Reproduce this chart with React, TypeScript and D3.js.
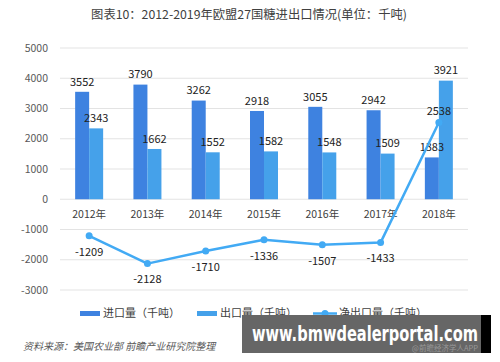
import React from "react";
import * as d3 from "d3";

const years = ["2012年", "2013年", "2014年", "2015年", "2016年", "2017年", "2018年"];
const imports = [3552, 3790, 3262, 2918, 3055, 2942, 1383];
const exportsVol = [2343, 1662, 1552, 1582, 1548, 1509, 3921];
const netExports = [-1209, -2128, -1710, -1336, -1507, -1433, 2538];
const yTicks = [5000, 4000, 3000, 2000, 1000, 0, -1000, -2000, -3000];

const W = 500;
const H = 362;
const FONT = "'Noto Sans CJK SC', 'Noto Sans', sans-serif";
const IMPORT_COLOR = "#3E82E0";
const EXPORT_COLOR = "#45A1EA";
const LINE_COLOR = "#42AAF4";

export default function App() {
  const x = d3.scaleBand<string>().domain(years).range([60, 468]).paddingInner(0).paddingOuter(0);
  const y = d3.scaleLinear().domain([-3000, 5000]).range([290, 48]);
  const barW = 14;

  const line = d3
    .line<number>()
    .x((_, i) => (x(years[i]) as number) + x.bandwidth() / 2)
    .y((d) => y(d));

  return (
    <svg width={W} height={H} style={{ position: "absolute", left: 0, top: 0, background: "#fff" }} fontFamily={FONT}>
      <rect width={W} height={H} fill="#fff" />
      <text x={249} y={19} textAnchor="middle" fontSize={12.3} fill="#404040">
        图表10：2012-2019年欧盟27国糖进出口情况(单位：千吨)
      </text>

      {/* grid */}
      {yTicks.map((t) => (
        <g key={t}>
          <line x1={60} x2={468} y1={y(t)} y2={y(t)} stroke="#e3e3e3" strokeWidth={1} />
          <text x={48} y={y(t)} dy="0.35em" textAnchor="end" fontSize={10.5} fill="#595959">
            {t}
          </text>
        </g>
      ))}

      {/* category labels */}
      {years.map((yr) => (
        <text key={yr} x={(x(yr) as number) + x.bandwidth() / 2} y={y(0) + 15} dy="0.35em" textAnchor="middle" fontSize={10.5} fill="#404040">
          {yr}
        </text>
      ))}

      {/* bars */}
      {years.map((yr, i) => {
        const cx = (x(yr) as number) + x.bandwidth() / 2;
        return (
          <g key={yr}>
            <rect x={cx - barW} y={y(imports[i])} width={barW} height={y(0) - y(imports[i])} fill={IMPORT_COLOR} />
            <rect x={cx} y={y(exportsVol[i])} width={barW} height={y(0) - y(exportsVol[i])} fill={EXPORT_COLOR} />
            <text x={cx - barW / 2} y={y(imports[i]) - 10} dy="0.35em" textAnchor="middle" fontSize={11} fill="#222">
              {imports[i]}
            </text>
            <text x={cx + barW / 2} y={y(exportsVol[i]) - 10} dy="0.35em" textAnchor="middle" fontSize={11} fill="#222">
              {exportsVol[i]}
            </text>
          </g>
        );
      })}

      {/* net export line */}
      <path d={line(netExports) as string} fill="none" stroke={LINE_COLOR} strokeWidth={2.5} strokeLinejoin="round" />
      {netExports.map((v, i) => {
        const cx = (x(years[i]) as number) + x.bandwidth() / 2;
        return (
          <g key={i}>
            <circle cx={cx} cy={y(v)} r={3.5} fill={LINE_COLOR} />
            <text x={cx} y={v < 0 ? y(v) + 16 : y(v) - 11} dy="0.35em" textAnchor="middle" fontSize={11} fill="#222">
              {v}
            </text>
          </g>
        );
      })}

      {/* legend */}
      <rect x={80} y={311} width={20} height={5} fill={IMPORT_COLOR} />
      <text x={103} y={313.5} dy="0.35em" fontSize={11} fill="#404040">进口量（千吨）</text>
      <rect x={197} y={311} width={20} height={5} fill={EXPORT_COLOR} />
      <text x={220} y={313.5} dy="0.35em" fontSize={11} fill="#404040">出口量（千吨）</text>
      <line x1={313} x2={337} y1={313.5} y2={313.5} stroke={LINE_COLOR} strokeWidth={2.5} />
      <circle cx={325} cy={313.5} r={3.5} fill={LINE_COLOR} />
      <text x={339} y={313.5} dy="0.35em" fontSize={11} fill="#404040">净出口量（千吨）</text>

      {/* source */}
      <text x={23} y={346} dy="0.35em" fontSize={10} fontStyle="italic" fill="#595959">
        资料来源：美国农业部 前瞻产业研究院整理
      </text>

      {/* overlay banner */}
      <rect x={242} y={315} width={239} height={38} fill="#666" />
      <rect x={481} y={315} width={10} height={38} fill="#000" />
      <text x={478} y={351} fontSize={7.5} fill="#999" textAnchor="end">@前瞻经济学人APP</text>
      <text x={252} y={341} fontSize={21} fontWeight="bold" fill="#fff" fontFamily="'DejaVu Sans', sans-serif" textLength={226} lengthAdjust="spacingAndGlyphs">
        www.bmwdealerportal.com
      </text>
    </svg>
  );
}
